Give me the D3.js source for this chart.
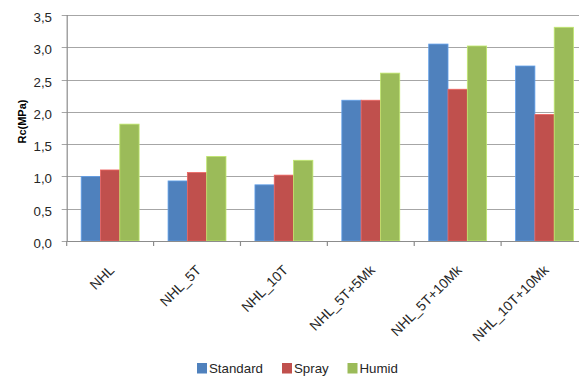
<!DOCTYPE html>
<html>
<head>
<meta charset="utf-8">
<script src="https://cdn.jsdelivr.net/npm/d3@7"></script>
<style>
  html, body { margin: 0; padding: 0; background: #fff; overflow: hidden; }
  svg { display: block; font-family: "Liberation Sans", Arial, sans-serif; }
  .tick-label { font-size: 13.3px; fill: #262626; }
  .cat-label { font-size: 13.8px; fill: #262626; }
  .axis-label { font-size: 11px; font-weight: bold; fill: #000; }
</style>
</head>
<body>
<div id="chart"></div>
<script>
// Data
const categories = ["NHL", "NHL_5T", "NHL_10T", "NHL_5T+5Mk", "NHL_5T+10Mk", "NHL_10T+10Mk"];
const seriesNames = ["Standard", "Spray", "Humid"];
const standard = [1.00, 0.93, 0.87, 2.18, 3.05, 2.71];
const spray    = [1.10, 1.06, 1.02, 2.18, 2.35, 1.96];
const humid    = [1.81, 1.31, 1.25, 2.60, 3.02, 3.31];
const yTicks = [0, 0.5, 1, 1.5, 2, 2.5, 3, 3.5];
const colors = ["#4F81BD", "#C0504D", "#9BBB59"];

const width = 579, height = 378;
const margin = { left: 66.7, top: 15, plotRight: 588, bottom: 241 };

const svg = d3.select("#chart")
    .append("svg")
    .attr("width", width)
    .attr("height", height);

const xScale = d3.scaleBand()
    .domain(categories)
    .range([margin.left, margin.plotRight]);

const yScale = d3.scaleLinear()
    .domain([0, 3.5])
    .range([margin.bottom, margin.top]);

// bars: gap width 150% of a bar
const xInner = d3.scaleBand()
    .domain(seriesNames)
    .range([0, xScale.bandwidth()])
    .paddingOuter(0.75)
    .paddingInner(0);

// Gridlines + left ticks
svg.append("g")
    .selectAll("line")
    .data(yTicks)
    .join("line")
    .attr("x1", margin.left - 5)
    .attr("x2", width)
    .attr("y1", d => Math.round(yScale(d)) + 0.5)
    .attr("y2", d => Math.round(yScale(d)) + 0.5)
    .attr("stroke", "#a6a6a6")
    .attr("stroke-width", 1.2);

// y tick labels
svg.append("g")
    .selectAll("text")
    .data(yTicks)
    .join("text")
    .attr("class", "tick-label")
    .attr("x", 52)
    .attr("y", d => yScale(d) + 7)
    .attr("text-anchor", "end")
    .text(d => d3.format(".1f")(d).replace(".", ","));

// Bars
const rows = categories.map((c, i) => ({ cat: c, vals: [standard[i], spray[i], humid[i]] }));
const groups = svg.append("g")
    .selectAll("g")
    .data(rows)
    .join("g")
    .attr("transform", d => `translate(${xScale(d.cat)},0)`);

groups.selectAll("rect")
    .data(d => d.vals.map((v, j) => ({ name: seriesNames[j], v, j })))
    .join("rect")
    .attr("x", d => xInner(d.name))
    .attr("y", d => yScale(d.v))
    .attr("width", xInner.bandwidth())
    .attr("height", d => yScale(0) - yScale(d.v))
    .attr("fill", d => colors[d.j])
    .attr("stroke", d => d3.color(colors[d.j]).brighter(0.6))
    .attr("stroke-width", 0.8);

// Axes lines
svg.append("line")
    .attr("x1", margin.left + 0.5).attr("x2", margin.left + 0.5)
    .attr("y1", margin.top).attr("y2", margin.bottom)
    .attr("stroke", "#8c8c8c").attr("stroke-width", 1.2);

svg.append("line")
    .attr("x1", margin.left).attr("x2", width)
    .attr("y1", margin.bottom + 0.5).attr("y2", margin.bottom + 0.5)
    .attr("stroke", "#8c8c8c").attr("stroke-width", 1.2);

// category ticks
svg.append("g")
    .selectAll("line")
    .data(categories)
    .join("line")
    .attr("x1", d => xScale(d))
    .attr("x2", d => xScale(d))
    .attr("y1", margin.bottom)
    .attr("y2", margin.bottom + 5)
    .attr("stroke", "#8c8c8c")
    .attr("stroke-width", 1.2);

// category labels rotated -45
svg.append("g")
    .selectAll("text")
    .data(categories)
    .join("text")
    .attr("class", "cat-label")
    .attr("text-anchor", "end")
    .attr("transform", d => `translate(${xScale(d) + xScale.bandwidth() / 2 + 5},${margin.bottom + 30}) rotate(-45)`)
    .text(d => d);

// y-axis label
svg.append("text")
    .attr("class", "axis-label")
    .attr("text-anchor", "middle")
    .attr("transform", `translate(25.5,${yScale(1.85)}) rotate(-90)`)
    .text("Rc(MPa)");

// legend
const legendX = [197, 282, 347.5];
const legend = svg.append("g");
seriesNames.forEach((name, i) => {
    const g = legend.append("g").attr("transform", `translate(${legendX[i]}, 363)`);
    g.append("rect")
        .attr("width", 10)
        .attr("height", 10.5)
        .attr("fill", colors[i]);
    g.append("text")
        .attr("class", "tick-label")
        .attr("x", 12)
        .attr("y", 10)
        .text(name);
});
</script>
</body>
</html>
